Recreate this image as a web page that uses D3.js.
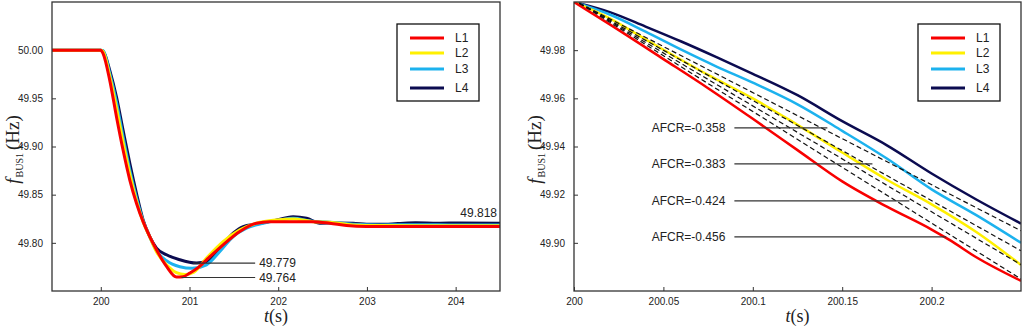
<!DOCTYPE html>
<html>
<head>
<meta charset="utf-8">
<script src="https://cdnjs.cloudflare.com/ajax/libs/d3/7.8.5/d3.min.js"></script>
<style>
  html, body { margin: 0; padding: 0; background: #fff; }
  svg { display: block; }
  .tick text { font-family: Arial, "Liberation Sans", sans-serif; font-size: 10px; fill: #222; }
  .tick line { stroke: #333; }
  .domain { stroke: none; }
</style>
</head>
<body>
<svg id="chart" width="1024" height="329"></svg>
<script>
// 系列名称与颜色
const seriesNames = ["L1", "L2", "L3", "L4"];
const seriesColors = ["#f80000", "#fff000", "#1cb2ee", "#0b0b50"];

// 左图：频率响应 (t, f)
const l1Left = [[199.45,50.000],[200.00,50.000],[200.026,49.9964],[200.101,49.9687],[200.177,49.9307],[200.251,49.8963],[200.327,49.8652],[200.402,49.8411],[200.477,49.8220],[200.552,49.8065],[200.628,49.7928],[200.741,49.7755],[200.853,49.7645],[200.928,49.7648],[201.003,49.7686],[201.10,49.7745],[201.192,49.7824],[201.379,49.7979],[201.567,49.8117],[201.755,49.8204],[201.905,49.8220],[202.131,49.8220],[202.393,49.8220],[202.582,49.8204],[202.770,49.8179],[202.995,49.8169],[203.5,49.8169],[204.0,49.8170],[204.5,49.8170]];
const l2Left = [[199.45,50.000],[200.00,50.000],[200.026,49.9986],[200.101,49.9729],[200.177,49.9398],[200.251,49.9045],[200.327,49.8714],[200.402,49.8435],[200.477,49.8217],[200.552,49.8062],[200.628,49.7907],[200.741,49.7772],[200.853,49.7690],[200.947,49.7670],[201.05,49.7695],[201.192,49.7842],[201.379,49.8013],[201.567,49.8135],[201.755,49.8204],[201.981,49.8238],[202.168,49.8248],[202.393,49.8220],[202.582,49.8214],[202.844,49.8186],[203.145,49.8179],[203.6,49.8178],[204.5,49.8178]];
const l3Left = [[199.45,50.000],[200.00,50.000],[200.026,49.9995],[200.101,49.9760],[200.177,49.9460],[200.251,49.9100],[200.327,49.8756],[200.402,49.8466],[200.477,49.8228],[200.552,49.8062],[200.628,49.7917],[200.741,49.7814],[200.891,49.7752],[201.03,49.7735],[201.192,49.7772],[201.342,49.7910],[201.492,49.8065],[201.643,49.8152],[201.830,49.8204],[202.018,49.8238],[202.168,49.8256],[202.356,49.8228],[202.582,49.8214],[202.844,49.8194],[203.145,49.8186],[203.6,49.8188],[204.0,49.8186],[204.5,49.8186]];
const l4Left = [[199.45,50.000],[200.00,50.000],[200.03,49.9985],[200.101,49.9791],[200.177,49.9514],[200.251,49.9170],[200.327,49.8825],[200.402,49.8514],[200.477,49.8238],[200.552,49.8065],[200.628,49.7945],[200.741,49.7876],[200.891,49.7824],[201.079,49.7790],[201.192,49.7806],[201.342,49.7945],[201.492,49.8101],[201.604,49.8169],[201.755,49.8194],[201.943,49.8228],[202.168,49.8272],[202.319,49.8256],[202.469,49.8204],[202.657,49.8207],[202.844,49.8204],[202.995,49.8194],[203.145,49.8192],[203.35,49.8200],[203.55,49.8208],[203.8,49.8204],[204.05,49.8206],[204.5,49.8204]];

// 右图：局部放大 (t, f)
const l1Right = [[200,50.000],[200.02,49.9907],[200.05,49.9763],[200.075,49.9642],[200.1,49.9515],[200.125,49.9385],[200.15,49.9255],[200.175,49.9150],[200.2,49.9055],[200.21,49.9012],[200.225,49.8940],[200.25,49.8842]];
const l2Right = [[200,50.000],[200.02,49.9932],[200.04,49.9845],[200.075,49.9697],[200.1,49.9600],[200.125,49.9490],[200.15,49.9375],[200.175,49.9262],[200.2,49.9160],[200.225,49.9045],[200.25,49.8908]];
const l3Right = [[200,50.000],[200.02,49.9948],[200.04,49.9877],[200.06,49.9802],[200.08,49.9731],[200.1,49.9665],[200.125,49.9575],[200.15,49.9465],[200.175,49.9350],[200.2,49.9222],[200.225,49.9115],[200.25,49.9000]];
const l4Right = [[200,50.000],[200.02,49.9958],[200.04,49.9898],[200.06,49.9836],[200.08,49.9770],[200.1,49.9702],[200.125,49.9613],[200.15,49.9505],[200.175,49.9405],[200.2,49.9288],[200.225,49.9180],[200.25,49.9080]];

// 虚线（AFCR 斜率线）起止点
const afcrLines = [
  [[200.003,49.9995],[200.25,49.9050]],
  [[200.003,49.9995],[200.25,49.8967]],
  [[200.003,49.9995],[200.25,49.8909]],
  [[200.003,49.9995],[200.25,49.8850]]
];
const afcrLabels = ["AFCR=-0.358", "AFCR=-0.383", "AFCR=-0.424", "AFCR=-0.456"];
const afcrLevels = [49.9477, 49.9328, 49.9174, 49.9025];
const afcrEnds = [200.1417, 200.1669, 200.1876, 200.2082];
const afcrStart = 200.0897;

// 左图标注
const leftMarks = [49.779, 49.764];
const leftMarkStarts = [201.04, 200.91];
const leftMarkEnd = 201.74;
const finalLabel = "49.818";

// 刻度
const leftXTicks = [200, 201, 202, 203, 204];
const leftYTicks = [49.80, 49.85, 49.90, 49.95, 50.00];
const rightXTicks = [200, 200.05, 200.1, 200.15, 200.2];
const rightXTickLabels = ["200", "200.05", "200.1", "200.15", "200.2"];
const rightYTicks = [49.90, 49.92, 49.94, 49.96, 49.98];

const svg = d3.select("#chart");

function drawPanel(cfg) {
  const x = d3.scaleLinear().domain(cfg.xDomain).range([cfg.left, cfg.right]);
  const y = d3.scaleLinear().domain(cfg.yDomain).range([cfg.bottom, cfg.top]);
  const g = svg.append("g");

  // 坐标轴（刻度朝内）
  g.append("g")
    .attr("transform", `translate(0,${cfg.bottom})`)
    .call(d3.axisBottom(x).tickValues(cfg.xTicks).tickSize(-4).tickPadding(7)
      .tickFormat((d, i) => cfg.xLabels[i]));
  g.append("g")
    .attr("transform", `translate(${cfg.left},0)`)
    .call(d3.axisLeft(y).tickValues(cfg.yTicks).tickSize(-4).tickPadding(9)
      .tickFormat(d3.format(".2f")));

  const clipId = "clip-" + cfg.id;
  g.append("clipPath").attr("id", clipId).append("rect")
    .attr("x", cfg.left).attr("y", cfg.top)
    .attr("width", cfg.right - cfg.left).attr("height", cfg.bottom - cfg.top);

  const plot = g.append("g").attr("clip-path", `url(#${clipId})`);
  const line = d3.line().x(d => x(d[0])).y(d => y(d[1])).curve(d3.curveMonotoneX);

  // 曲线：L4 在底，L1 在顶
  for (let i = cfg.series.length - 1; i >= 0; i--) {
    plot.append("path")
      .datum(cfg.series[i])
      .attr("d", line)
      .style("fill", "none")
      .style("stroke", seriesColors[i])
      .style("stroke-width", cfg.lineWidth)
      .style("stroke-linejoin", "round");
  }

  if (cfg.extra) cfg.extra(g, plot, x, y);

  // 边框
  g.append("rect")
    .attr("x", cfg.left).attr("y", cfg.top)
    .attr("width", cfg.right - cfg.left).attr("height", cfg.bottom - cfg.top)
    .style("fill", "none").style("stroke", "#333").style("stroke-width", 1.3);

  // 图例
  const lg = g.append("g").attr("transform", `translate(${cfg.right - 21 - 82},${cfg.top + 22})`);
  lg.append("rect").attr("width", 82).attr("height", 77)
    .style("fill", "#fff").style("stroke", "#111").style("stroke-width", 1.3);
  const rowY = [14, 29, 45, 64];
  seriesNames.forEach((name, i) => {
    lg.append("line").attr("x1", 13).attr("x2", 47).attr("y1", rowY[i]).attr("y2", rowY[i])
      .style("stroke", seriesColors[i]).style("stroke-width", 3);
    lg.append("text").attr("x", 58).attr("y", rowY[i]).attr("dy", "0.36em")
      .style("font-family", "Arial, sans-serif").style("font-size", "12px").style("fill", "#222")
      .text(name);
  });

  // 轴标题
  const xl = g.append("text")
    .attr("x", (cfg.left + cfg.right) / 2).attr("y", 322)
    .attr("text-anchor", "middle")
    .style("font-family", "'Liberation Serif', 'Times New Roman', serif").style("font-size", "18px").style("fill", "#222");
  xl.append("tspan").style("font-style", "italic").text("t");
  xl.append("tspan").text("(s)");

  const yl = g.append("text")
    .attr("transform", `translate(${cfg.left - 33},${(cfg.top + cfg.bottom) / 2 + 3}) rotate(-90)`)
    .attr("text-anchor", "middle")
    .style("font-family", "'Liberation Serif', 'Times New Roman', serif").style("font-size", "19px").style("fill", "#222");
  yl.append("tspan").style("font-style", "italic").text("f");
  yl.append("tspan").attr("dy", 4).attr("dx", 1).style("font-size", "10px").text("BUS1");
  yl.append("tspan").attr("dy", -4).attr("dx", 3).text("(Hz)");
}

const annStyle = sel => sel.style("stroke", "#333").style("stroke-width", 1.2);
const annText = sel => sel.style("font-family", "Arial, sans-serif").style("font-size", "12px").style("fill", "#222");

drawPanel({
  id: "left", left: 52, right: 500, top: 2, bottom: 291,
  xDomain: [199.45, 204.5], yDomain: [49.75, 50.05],
  xTicks: leftXTicks, xLabels: leftXTicks.map(String), yTicks: leftYTicks,
  series: [l1Left, l2Left, l3Left, l4Left], lineWidth: 3,
  extra: (g, plot, x, y) => {
    leftMarks.forEach((v, i) => {
      g.append("line").attr("x1", x(leftMarkStarts[i])).attr("x2", x(leftMarkEnd))
        .attr("y1", y(v)).attr("y2", y(v)).call(annStyle);
      g.append("text").attr("x", x(leftMarkEnd) + 4).attr("y", y(v)).attr("dy", "0.36em")
        .call(annText).text(d3.format(".3f")(v));
    });
    g.append("text").attr("x", 497).attr("y", y(49.818) - 8)
      .attr("text-anchor", "end").call(annText).text(finalLabel);
  }
});

drawPanel({
  id: "right", left: 574, right: 1021, top: 2, bottom: 291,
  xDomain: [200, 200.25], yDomain: [49.88, 50.0],
  xTicks: rightXTicks, xLabels: rightXTickLabels, yTicks: rightYTicks,
  series: [l1Right, l2Right, l3Right, l4Right], lineWidth: 2.5,
  extra: (g, plot, x, y) => {
    afcrLines.forEach(seg => {
      plot.append("line")
        .attr("x1", x(seg[0][0])).attr("y1", y(seg[0][1]))
        .attr("x2", x(seg[1][0])).attr("y2", y(seg[1][1]))
        .style("stroke", "#111").style("stroke-width", 1.2).style("stroke-dasharray", "5,3");
    });
    afcrLabels.forEach((label, i) => {
      g.append("line").attr("x1", x(afcrStart)).attr("x2", x(afcrEnds[i]))
        .attr("y1", y(afcrLevels[i])).attr("y2", y(afcrLevels[i])).call(annStyle);
      g.append("text").attr("x", x(afcrStart) - 9).attr("y", y(afcrLevels[i])).attr("dy", "0.36em")
        .attr("text-anchor", "end").call(annText).text(label);
    });
  }
});
</script>
</body>
</html>
